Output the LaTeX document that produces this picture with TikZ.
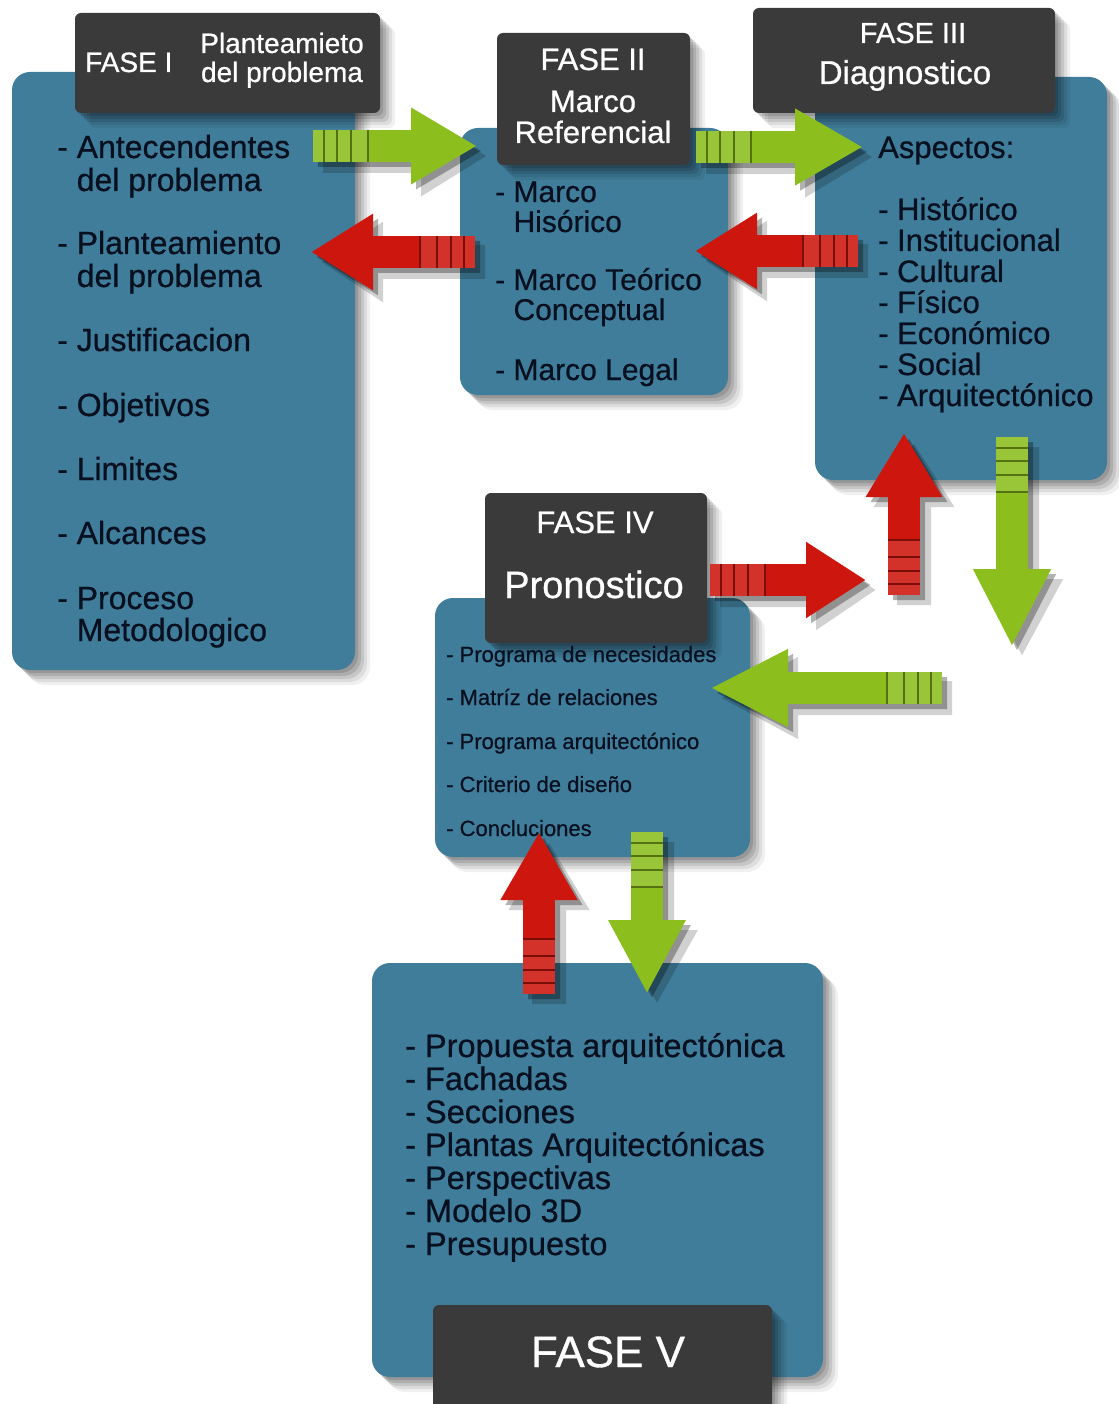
\documentclass[tikz,border=0pt]{standalone}
\usepackage{fontspec}
\setmainfont{Liberation Sans}[FakeBold=0.7]
\usetikzlibrary{arrows.meta,calc,fit}
\definecolor{boxblue}{RGB}{64,125,154}
\definecolor{hdr}{RGB}{58,58,58}
\definecolor{agreen}{RGB}{140,190,30}
\definecolor{ared}{RGB}{205,22,14}
\definecolor{txt}{RGB}{8,16,32}
\newcommand{\fsz}[1]{\fontsize{#1}{#1}\selectfont}
\newcommand{\softshadow}[5]{%
  \foreach \o/\op in {3/0.13,6/0.12,9/0.10,12/0.08,15/0.06}{%
    \fill[black, opacity=\op, rounded corners=#5] (#1+\o,#2+\o) rectangle (#3+\o,#4+\o);
  }}
\newcommand{\blockarrow}[4]{%
  \begin{scope}[transparency group, opacity=0.3]
    \draw[black, line width=32pt, -{Triangle[width=72pt,length=#4pt]}] ([shift={(5,5)}]#1) -- ([shift={(5,5)}]#2);
  \end{scope}
  \begin{scope}[transparency group, opacity=0.18]
    \draw[black, line width=34pt, -{Triangle[width=76pt,length=#4pt]}] ([shift={(10,10)}]#1) -- ([shift={(10,10)}]#2);
  \end{scope}
  \draw[#3, line width=32pt, -{Triangle[width=72pt,length=#4pt]}] (#1) -- (#2);
  \fill[white, opacity=0.12] ($(#1)!16pt!90:(#2)$) -- ($(#1)!16pt!-90:(#2)$) -- ($($(#1)!55pt!(#2)$)!16pt!90:(#1)$) -- ($($(#1)!55pt!(#2)$)!16pt!-90:(#1)$) -- cycle;
  \foreach \d in {11,24,38,55}{%
    \coordinate (tmp) at ($(#1)!\d pt!(#2)$);
    \draw[#3!60!black, line width=2.2pt] ($(tmp)!16pt!90:(#2)$) -- ($(tmp)!16pt!-90:(#2)$);
  }}
\tikzset{
  bluebox/.style={fill=boxblue, rounded corners=18pt, inner sep=0pt},
  hdrbox/.style={fill=hdr, rounded corners=6pt, inner sep=0pt},
  body/.style={anchor=base west, inner sep=0pt, text=txt},
  htext/.style={anchor=base, inner sep=0pt, text=white},
}
\begin{document}
\begin{tikzpicture}[x=1pt,y=-1pt]
\useasboundingbox (0,0) rectangle (1118,1404);
\fill[white] (0,0) rectangle (1118,1404);

% ---------- box shadows ----------
\softshadow{12}{72}{355}{670}{18pt}
\softshadow{460}{128}{728}{395}{18pt}
\softshadow{815}{77}{1107}{480}{18pt}
\softshadow{435}{598}{750}{857}{18pt}
\softshadow{372}{963}{823}{1377}{18pt}

% ---------- blue boxes ----------
\node[bluebox, fit={(12,72) (355,670)}] (b1) {};
\node[bluebox, fit={(460,128) (728,395)}] (b2) {};
\node[bluebox, fit={(815,77) (1107,480)}] (b3) {};
\node[bluebox, fit={(435,598) (750,857)}] (b4) {};
\node[bluebox, fit={(372,963) (823,1377)}] (b5) {};

% ---------- header shadows + headers ----------
\softshadow{75}{13}{380}{113}{6pt}
\softshadow{497}{33}{690}{165}{6pt}
\softshadow{753}{8}{1055}{113}{6pt}
\softshadow{485}{493}{707}{643}{6pt}
\softshadow{433}{1305}{772}{1420}{6pt}
\node[hdrbox, fit={(75,13) (380,113)}] (h1) {};
\node[hdrbox, fit={(497,33) (690,165)}] (h2) {};
\node[hdrbox, fit={(753,8) (1055,113)}] (h3) {};
\node[hdrbox, fit={(485,493) (707,643)}] (h4) {};
\node[hdrbox, fit={(433,1305) (772,1420)}] (h5) {};

% ---------- header texts ----------
\node[htext, anchor=base west, font=\fsz{28}] (h1a) at (85,72) {FASE I};
\node[htext, font=\fsz{28}] (h1b) at (282,53) {Planteamieto};
\node[htext, font=\fsz{28}] (h1c) at (282,82) {del problema};

\node[htext, font=\fsz{31}] (h2a) at (593,70) {FASE II};
\node[htext, font=\fsz{31}] (h2b) at (593,112) {Marco};
\node[htext, font=\fsz{31}] (h2c) at (593,143) {Referencial};

\node[htext, font=\fsz{29}] (h3a) at (913,43) {FASE III};
\node[htext, font=\fsz{33}] (h3b) at (905,84) {Diagnostico};

\node[htext, font=\fsz{31}] (h4a) at (595,533) {FASE IV};
\node[htext, font=\fsz{38}] (h4b) at (594,598) {Pronostico};

\node[htext, font=\fsz{44}] (h5a) at (608,1367) {FASE V};

% ---------- body texts ----------
\begin{scope}[font=\fsz{32}]
\node[body] (t1a) at (57,158) {- Antecendentes};
\node[body] (t1b) at (57,191) {\phantom{- }del problema};
\node[body] (t1c) at (57,254) {- Planteamiento};
\node[body] (t1d) at (57,287) {\phantom{- }del problema};
\node[body] (t1e) at (57,351) {- Justificacion};
\node[body] (t1f) at (57,416) {- Objetivos};
\node[body] (t1g) at (57,480) {- Limites};
\node[body] (t1h) at (57,544) {- Alcances};
\node[body] (t1i) at (57,609) {- Proceso};
\node[body] (t1j) at (57,641) {\phantom{- }Metodologico};
\end{scope}

\begin{scope}[font=\fsz{30}]
\node[body] (t2a) at (495,202) {- Marco};
\node[body] (t2b) at (495,232) {\phantom{- }Hisórico};
\node[body] (t2c) at (495,290) {- Marco Teórico};
\node[body] (t2d) at (495,320) {\phantom{- }Conceptual};
\node[body] (t2e) at (495,380) {- Marco Legal};
\end{scope}

\begin{scope}[font=\fsz{31}]
\node[body] (t3a) at (878,158) {Aspectos:};
\node[body] (t3b) at (878,220) {- Histórico};
\node[body] (t3c) at (878,251) {- Institucional};
\node[body] (t3d) at (878,282) {- Cultural};
\node[body] (t3e) at (878,313) {- Físico};
\node[body] (t3f) at (878,344) {- Económico};
\node[body] (t3g) at (878,375) {- Social};
\node[body] (t3h) at (878,406) {- Arquitectónico};
\end{scope}

\begin{scope}[font=\fsz{22}]
\node[body] (t4a) at (446,662) {- Programa de necesidades};
\node[body] (t4b) at (446,705) {- Matríz de relaciones};
\node[body] (t4c) at (446,749) {- Programa arquitectónico};
\node[body] (t4d) at (446,792) {- Criterio de diseño};
\node[body] (t4e) at (446,836) {- Concluciones};
\end{scope}

\begin{scope}[font=\fsz{32.5}]
\node[body] (t5a) at (405,1057) {- Propuesta arquitectónica};
\node[body] (t5b) at (405,1090) {- Fachadas};
\node[body] (t5c) at (405,1123) {- Secciones};
\node[body] (t5d) at (405,1156) {- Plantas Arquitectónicas};
\node[body] (t5e) at (405,1189) {- Perspectivas};
\node[body] (t5f) at (405,1222) {- Modelo 3D};
\node[body] (t5g) at (405,1255) {- Presupuesto};
\end{scope}

% ---------- arrow end points ----------
\coordinate (a1s) at (313,146);  \coordinate (a1e) at (477,146);
\coordinate (a2s) at (475,252);  \coordinate (a2e) at (311,252);
\coordinate (a3s) at (696,147);  \coordinate (a3e) at (863,147);
\coordinate (a4s) at (858,251);  \coordinate (a4e) at (695,251);
\coordinate (a5s) at (904,595);  \coordinate (a5e) at (904,433);
\coordinate (a6s) at (1012,437); \coordinate (a6e) at (1012,647);
\coordinate (a7s) at (710,580);  \coordinate (a7e) at (866,580);
\coordinate (a8s) at (942,688);  \coordinate (a8e) at (710,688);
\coordinate (a9s) at (539,994);  \coordinate (a9e) at (539,832);
\coordinate (a10s) at (647,832); \coordinate (a10e) at (647,994);

% ---------- arrows ----------
\blockarrow{a1s}{a1e}{agreen}{66}
\blockarrow{a2s}{a2e}{ared}{62}
\blockarrow{a3s}{a3e}{agreen}{68}
\blockarrow{a4s}{a4e}{ared}{62}
\blockarrow{a5s}{a5e}{ared}{64}
\blockarrow{a6s}{a6e}{agreen}{78}
\blockarrow{a7s}{a7e}{ared}{60}
\blockarrow{a8s}{a8e}{agreen}{78}
\blockarrow{a9s}{a9e}{ared}{68}
\blockarrow{a10s}{a10e}{agreen}{74}
\end{tikzpicture}
\end{document}
